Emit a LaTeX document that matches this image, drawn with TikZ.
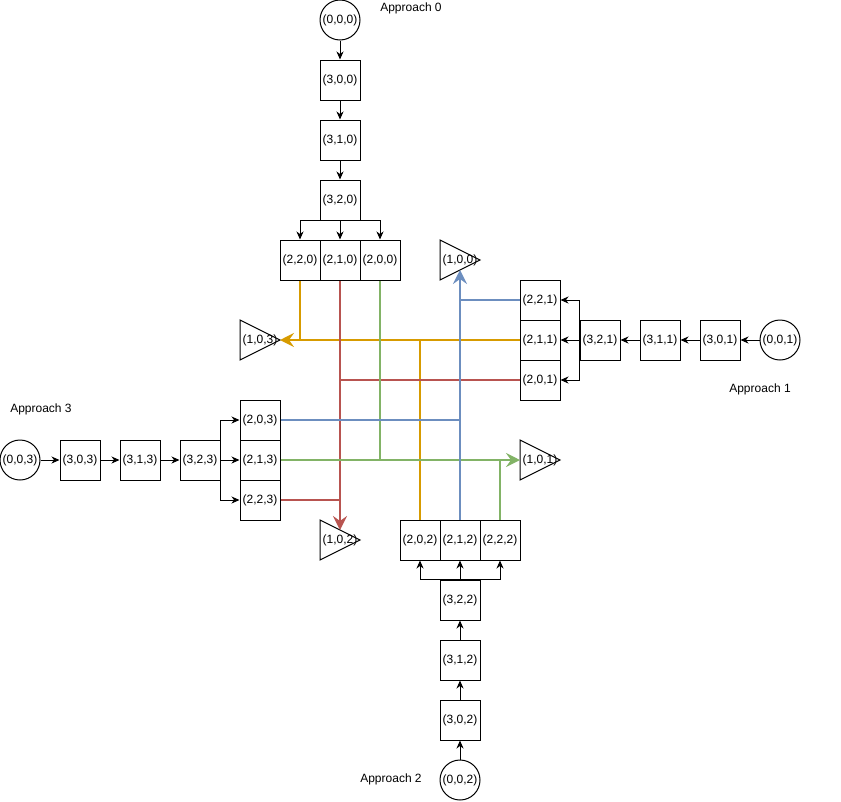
\documentclass[tikz,border=0pt]{standalone}
\usepackage{fontspec}
\setmainfont{Liberation Sans}
\usetikzlibrary{arrows.meta}
\definecolor{cor}{HTML}{D79B00}
\definecolor{cred}{HTML}{B85450}
\definecolor{cgr}{HTML}{82B366}
\definecolor{cbl}{HTML}{6C8EBF}
\begin{document}
\begin{tikzpicture}[x=1pt,y=-1pt,font=\fontsize{12}{14}\selectfont,
  box/.style={draw,line width=1pt,minimum size=40pt,inner sep=0pt},
  circ/.style={draw,circle,line width=1pt,minimum size=40pt,inner sep=0pt},
  lbl/.style={inner sep=0pt},
  tri/.style={draw,line width=1pt,line join=miter},
  arr/.style={line width=1pt,-{Stealth[length=8pt,width=7pt,inset=2.5pt]}},
  cl/.style={line width=2pt},
  carr/.style={line width=2pt,-{Stealth[length=14pt,width=14pt,inset=5pt]}}]
\useasboundingbox (0,0) rectangle (841,801);
% approach 0
\node[circ] (c000) at (340,20) {(0,0,0)};
\node[box] (b300) at (340,80) {(3,0,0)};
\node[box] (b310) at (340,140) {(3,1,0)};
\node[box] (b320) at (340,200) {(3,2,0)};
\node[box] (b220) at (300,260) {(2,2,0)};
\node[box] (b210) at (340,260) {(2,1,0)};
\node[box] (b200) at (380,260) {(2,0,0)};
% approach 1
\node[circ] (c001) at (780,340) {(0,0,1)};
\node[box] (b301) at (720,340) {(3,0,1)};
\node[box] (b311) at (660,340) {(3,1,1)};
\node[box] (b321) at (600,340) {(3,2,1)};
\node[box] (b221) at (540,300) {(2,2,1)};
\node[box] (b211) at (540,340) {(2,1,1)};
\node[box] (b201) at (540,380) {(2,0,1)};
% approach 3
\node[circ] (c003) at (20,460) {(0,0,3)};
\node[box] (b303) at (80,460) {(3,0,3)};
\node[box] (b313) at (140,460) {(3,1,3)};
\node[box] (b323) at (200,460) {(3,2,3)};
\node[box] (b203) at (260,420) {(2,0,3)};
\node[box] (b213) at (260,460) {(2,1,3)};
\node[box] (b223) at (260,500) {(2,2,3)};
% approach 2
\node[circ] (c002) at (460,780) {(0,0,2)};
\node[box] (b302) at (460,720) {(3,0,2)};
\node[box] (b312) at (460,660) {(3,1,2)};
\node[box] (b322) at (460,600) {(3,2,2)};
\node[box] (b202) at (420,540) {(2,0,2)};
\node[box] (b212) at (460,540) {(2,1,2)};
\node[box] (b222) at (500,540) {(2,2,2)};
% exits (triangles)
\draw[tri] (440,240) -- (440,280) -- (480,260) -- cycle;
\draw[tri] (240,320) -- (240,360) -- (280,340) -- cycle;
\draw[tri] (520,440) -- (520,480) -- (560,460) -- cycle;
\draw[tri] (320,520) -- (320,560) -- (360,540) -- cycle;
\node[lbl] (t100) at (460,260) {(1,0,0)};
\node[lbl] (t103) at (260,340) {(1,0,3)};
\node[lbl] (t101) at (540,460) {(1,0,1)};
\node[lbl] (t102) at (340,540) {(1,0,2)};
\coordinate (in100) at (460,270);
\coordinate (in103) at (280,340);
\coordinate (in101) at (520,460);
\coordinate (in102) at (340,530);
% labels
\node[lbl] (a0) at (411,8) {Approach 0};
\node[lbl] (a1) at (760,389) {Approach 1};
\node[lbl] (a3) at (41,409) {Approach 3};
\node[lbl] (a2) at (391,779) {Approach 2};
% black connectors
\draw[arr] (c000) -- (b300);
\draw[arr] (b300) -- (b310);
\draw[arr] (b310) -- (b320);
\draw[arr] (b320.south) -| (b220.north);
\draw[arr] (b320.south) -- (b210.north);
\draw[arr] (b320.south) -| (b200.north);
\draw[arr] (c001) -- (b301);
\draw[arr] (b301) -- (b311);
\draw[arr] (b311) -- (b321);
\draw[arr] (b321.west) |- (b221.east);
\draw[arr] (b321.west) -- (b211.east);
\draw[arr] (b321.west) |- (b201.east);
\draw[arr] (c003) -- (b303);
\draw[arr] (b303) -- (b313);
\draw[arr] (b313) -- (b323);
\draw[arr] (b323.east) |- (b203.west);
\draw[arr] (b323.east) -- (b213.west);
\draw[arr] (b323.east) |- (b223.west);
\draw[arr] (c002) -- (b302);
\draw[arr] (b302) -- (b312);
\draw[arr] (b312) -- (b322);
\draw[arr] (b322.north) -| (b202.south);
\draw[arr] (b322.north) -- (b212.south);
\draw[arr] (b322.north) -| (b222.south);
% orange -> (1,0,3)
\draw[cl,cor] (b211.west) -- (b211.west -| b220.south);
\draw[cl,cor] (b202.north) -- (b202.north |- b211.west);
\draw[carr,cor] (b220.south) |- (in103);
% red -> (1,0,2)
\draw[cl,cred] (b201.west) -- (b201.west -| b210.south);
\draw[cl,cred] (b223.east) -- (b223.east -| b210.south);
\draw[carr,cred] (b210.south) -- (in102);
% green -> (1,0,1)
\draw[cl,cgr] (b200.south) |- (b213.east);
\draw[cl,cgr] (b222.north) -- (b222.north |- b213.east);
\draw[carr,cgr] (b213.east) -- (in101);
% blue -> (1,0,0)
\draw[cl,cbl] (b221.west) -- (b221.west -| b212.north);
\draw[cl,cbl] (b203.east) -- (b203.east -| b212.north);
\draw[carr,cbl] (b212.north) -- (in100);
\end{tikzpicture}
\end{document}
